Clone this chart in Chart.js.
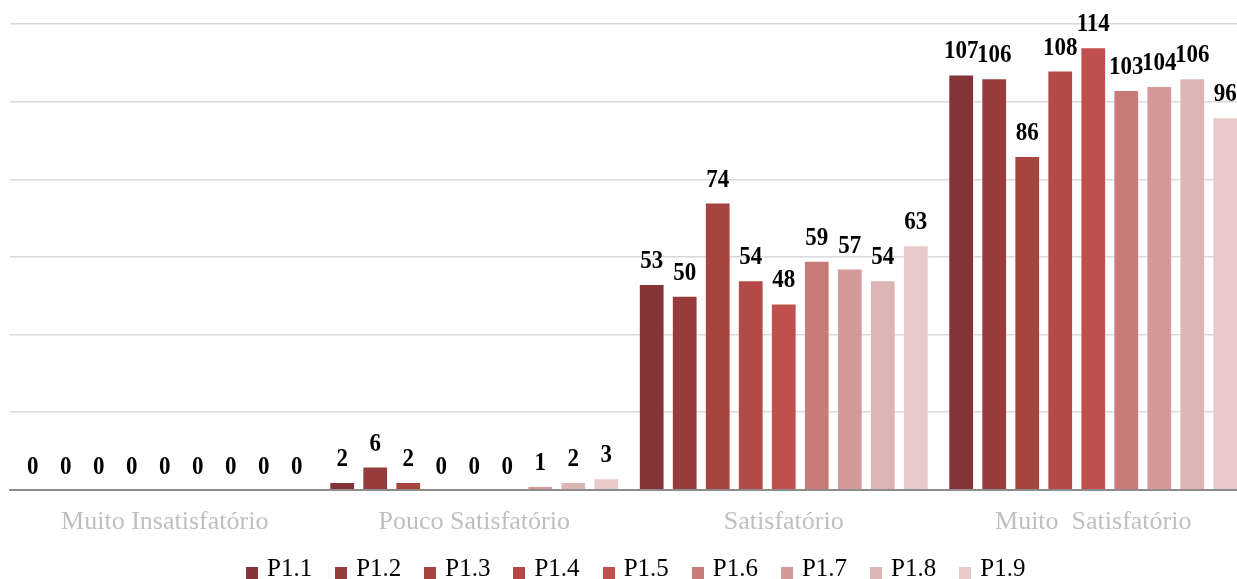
<!DOCTYPE html>
<html lang="pt">
<head>
<meta charset="utf-8">
<title>Nível de satisfação por questão</title>
<script src="https://cdn.jsdelivr.net/npm/chart.js@4.4.1/dist/chart.umd.min.js"></script>
<style>
  html, body { margin: 0; padding: 0; background: #ffffff; overflow: hidden; }
  #wrap { position: relative; width: 1237px; height: 579px; overflow: hidden; }
  #c { position: absolute; left: 0; top: 0; }
  #legend {
    position: absolute; left: 246px; top: 555px;
    display: flex; gap: 23px;
    font-family: "Liberation Serif", "Times New Roman", serif;
    font-size: 25px; line-height: 25px; color: #000;
  }
  .item { position: relative; padding-left: 21px; white-space: nowrap; }
  .swatch { position: absolute; left: 0; top: 12px; width: 12px; height: 12px; }
</style>
</head>
<body>
<div id="wrap">
  <canvas id="c" width="1250" height="579"></canvas>
  <div id="legend"></div>
</div>
<script>
// Answer categories (x axis)
const categories = ['Muito Insatisfatório', 'Pouco Satisfatório', 'Satisfatório', 'Muito  Satisfatório'];

// Questions (one series each)
const seriesNames = ['P1.1', 'P1.2', 'P1.3', 'P1.4', 'P1.5', 'P1.6', 'P1.7', 'P1.8', 'P1.9'];

// Number of answers per question, in category order
const p11 = [0, 2, 53, 107];
const p12 = [0, 6, 50, 106];
const p13 = [0, 2, 74, 86];
const p14 = [0, 0, 54, 108];
const p15 = [0, 0, 48, 114];
const p16 = [0, 0, 59, 103];
const p17 = [0, 1, 57, 104];
const p18 = [0, 2, 54, 106];
const p19 = [0, 3, 63, 96];

// Value axis range
const yMin = 0;
const yMax = 120;
const yStep = 20;

const seriesValues = [p11, p12, p13, p14, p15, p16, p17, p18, p19];
const seriesColors = ['#843436', '#963c3c', '#a6443f', '#b34a48', '#c0504d',
                      '#c97b7a', '#d49a99', '#deb5b5', '#e8cacb'];

const datasets = seriesNames.map((name, i) => ({
  label: name,
  data: seriesValues[i],
  backgroundColor: seriesColors[i],
  borderColor: 'rgba(255,255,255,0.35)',
  borderWidth: 1,
  categoryPercentage: 0.96,
  barPercentage: 0.78
}));

// Value labels drawn above each bar, in a slightly condensed bold serif
const valueLabels = {
  id: 'valueLabels',
  afterDatasetsDraw(chart) {
    const ctx = chart.ctx;
    ctx.save();
    ctx.font = 'bold 25px "Liberation Serif", "Times New Roman", serif';
    ctx.fillStyle = '#000000';
    ctx.textAlign = 'center';
    ctx.textBaseline = 'alphabetic';
    chart.data.datasets.forEach((ds, di) => {
      const meta = chart.getDatasetMeta(di);
      meta.data.forEach((bar, i) => {
        ctx.save();
        ctx.translate(bar.x, bar.y - 16);
        ctx.scale(0.92, 1);
        ctx.fillText(String(ds.data[i]), 0, 0);
        ctx.restore();
      });
    });
    ctx.restore();
  }
};

new Chart(document.getElementById('c'), {
  type: 'bar',
  data: { labels: categories, datasets },
  options: {
    responsive: false,
    animation: false,
    devicePixelRatio: 1,
    layout: { padding: { left: 10, right: 2, top: 24, bottom: 24 } },
    plugins: {
      legend: { display: false },
      tooltip: { enabled: false }
    },
    scales: {
      x: {
        grid: { display: false, drawTicks: false },
        border: { display: true, color: '#8c8c8c', width: 2 },
        ticks: {
          color: '#bfbfbf',
          padding: 17,
          maxRotation: 0,
          autoSkip: false,
          font: { family: '"Liberation Serif", "Times New Roman", serif', size: 26 }
        }
      },
      y: {
        min: yMin,
        max: yMax,
        ticks: { display: false, stepSize: yStep },
        grid: { color: '#d9d9d9', lineWidth: 1.5, drawTicks: false },
        border: { display: false }
      }
    }
  },
  plugins: [valueLabels]
});

// Legend built from the same series names and colours
const legendEl = document.getElementById('legend');
seriesNames.forEach((name, i) => {
  const item = document.createElement('div');
  item.className = 'item';
  const sw = document.createElement('span');
  sw.className = 'swatch';
  sw.style.background = seriesColors[i];
  item.appendChild(sw);
  item.appendChild(document.createTextNode(name));
  legendEl.appendChild(item);
});
</script>
</body>
</html>
